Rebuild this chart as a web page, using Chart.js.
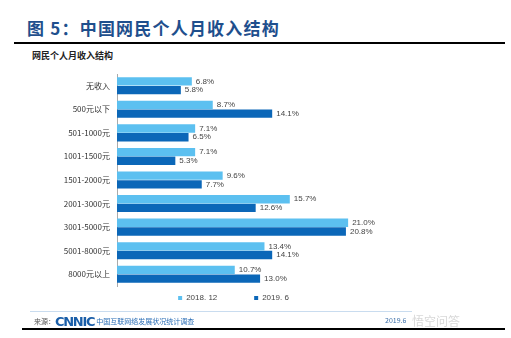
<!DOCTYPE html>
<html>
<head>
<meta charset="utf-8">
<script src="https://cdn.jsdelivr.net/npm/chart.js@4"></script>
<style>
  body { margin: 0; background: #fff; font-family: "Noto Sans CJK SC", "Noto Sans", sans-serif; }
  #page { position: relative; width: 511px; height: 338px; overflow: hidden; }
  .abs { position: absolute; white-space: nowrap; }
  #title { left: 27px; top: 15px; font-size: 17px; line-height: 26px; font-weight: bold; color: #1f4f8d; letter-spacing: 1.2px; }
  #topline { left: 14px; top: 42px; width: 491px; height: 2px; background: #000; }
  #subtitle { left: 32px; top: 49px; font-size: 9px; font-weight: bold; color: #222; }
  #chartBox { left: 0; top: 62px; width: 511px; height: 250px; }
  #srcline { left: 30px; top: 311px; width: 382px; height: 1px; background: #c9dcef; }
  #src { left: 34px; top: 314px; font-size: 7px; color: #555; }
  #src b { font-family: "DejaVu Sans", sans-serif; font-size: 13px; color: #1a5ea8; letter-spacing: -1.3px; vertical-align: -2px; margin-right: 2px; }
  #src span { color: #2a6db5; }
  #date { left: 385px; top: 315px; font-size: 7px; color: #3a6ea8; }
  #wm { left: 412px; top: 312px; font-size: 12px; color: #d8d8d8; }
  #botline { left: 22px; top: 328px; width: 483px; height: 2px; background: #000; }
</style>
</head>
<body>
<div id="page">
  <div class="abs" id="title">图 5：中国网民个人月收入结构</div>
  <div class="abs" id="topline"></div>
  <div class="abs" id="subtitle">网民个人月收入结构</div>
  <div class="abs" id="chartBox"><canvas id="chart" width="511" height="250"></canvas></div>
  <div class="abs" id="srcline"></div>
  <div class="abs" id="src">来源：<b>CNNIC</b><span>中国互联网络发展状况统计调查</span></div>
  <div class="abs" id="date">2019.6</div>
  <div class="abs" id="wm">悟空问答</div>
  <div class="abs" id="botline"></div>
</div>
<script>
const categories = ['无收入', '500元以下', '501-1000元', '1001-1500元', '1501-2000元', '2001-3000元', '3001-5000元', '5001-8000元', '8000元以上']
const seriesNames = ['2018. 12', '2019. 6']
const values2018 = [6.8, 8.7, 7.1, 7.1, 9.6, 15.7, 21.0, 13.4, 10.7]
const values2019 = [5.8, 14.1, 6.5, 5.3, 7.7, 12.6, 20.8, 14.1, 13.0]
const colors = ['#5cc0f0', '#0b67b8']

// 막대 끝에 값 표시
const valueLabels = {
  id: 'valueLabels',
  afterDatasetsDraw(chart) {
    const ctx = chart.ctx
    ctx.save()
    ctx.font = '8px "Liberation Sans", Arial, sans-serif'
    ctx.fillStyle = '#444'
    ctx.textBaseline = 'middle'
    chart.data.datasets.forEach((ds, i) => {
      chart.getDatasetMeta(i).data.forEach((bar, j) => {
        ctx.fillText(ds.data[j].toFixed(1) + '%', bar.x + 4, bar.y)
      })
    })
    ctx.restore()
  },
}

new Chart(document.getElementById('chart'), {
  type: 'bar',
  plugins: [valueLabels],
  data: {
    labels: categories,
    datasets: [
      { label: seriesNames[0], data: values2018, backgroundColor: colors[0] },
      { label: seriesNames[1], data: values2019, backgroundColor: colors[1] },
    ],
  },
  options: {
    indexAxis: 'y',
    responsive: false,
    animation: false,
    layout: { padding: { top: 12, right: 44, left: 0, bottom: 0 } },
    datasets: { bar: { barPercentage: 0.96, categoryPercentage: 0.74 } },
    scales: {
      x: { display: false, min: 0, max: 31.8 },
      y: {
        afterFit: (s) => { s.width = 117 },
        grid: { drawOnChartArea: false, drawTicks: false },
        border: { color: '#aaa' },
        ticks: { color: '#333', padding: 7, font: { size: 8, family: '"Noto Sans CJK SC", sans-serif' } },
      },
    },
    plugins: {
      tooltip: { enabled: false },
      legend: {
        position: 'bottom',
        labels: {
          boxWidth: 4, boxHeight: 4, padding: 8, color: '#444',
          font: { size: 8, family: '"Liberation Sans", Arial, sans-serif' },
          // 범례 항목 간격을 넓히기 위해 첫 항목 뒤에 공백 추가
          generateLabels: (chart) => {
            const items = Chart.defaults.plugins.legend.labels.generateLabels(chart)
            items[0].text = items[0].text + ' '.repeat(13)
            return items
          },
        },
      },
    },
  },
})
</script>
</body>
</html>
